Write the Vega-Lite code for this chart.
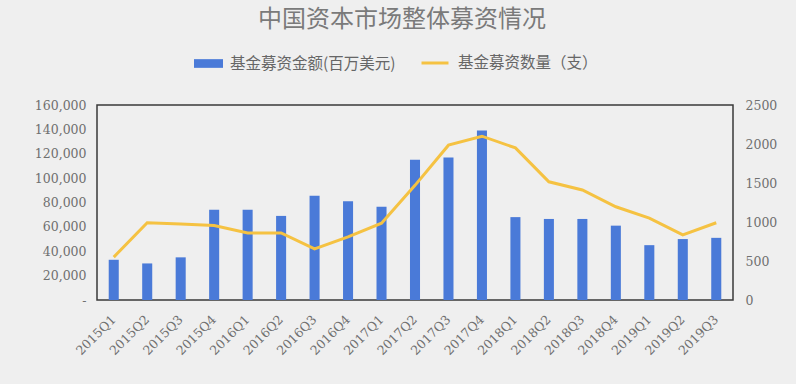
{
  "$schema": "https://vega.github.io/schema/vega-lite/v6.json",
  "width": 636,
  "height": 195,
  "autosize": {"type": "none"},
  "padding": {"left": 97, "top": 105, "right": 63, "bottom": 84},
  "background": "#efefef",
  "title": {
    "text": "中国资本市场整体募资情况",
    "font": "Noto Sans CJK SC",
    "fontSize": 24,
    "fontWeight": "normal",
    "color": "#7a7a7a",
    "offset": 16,
    "dx": -13
  },
  "config": {
    "view": {"stroke": "#3a3a3a", "strokeWidth": 1.5},
    "axis": {
      "grid": false,
      "domain": false,
      "ticks": false,
      "labelFont": "DejaVu Serif",
      "labelFontSize": 12.5,
      "labelColor": "#707070",
      "title": null
    }
  },
  "data": {
    "values": [
      {"q": "2015Q1", "amount": 33000, "count": 550},
      {"q": "2015Q2", "amount": 30000, "count": 990},
      {"q": "2015Q3", "amount": 35000, "count": 975},
      {"q": "2015Q4", "amount": 74000, "count": 955},
      {"q": "2016Q1", "amount": 74000, "count": 860},
      {"q": "2016Q2", "amount": 69000, "count": 860},
      {"q": "2016Q3", "amount": 85500, "count": 655},
      {"q": "2016Q4", "amount": 81000, "count": 810},
      {"q": "2017Q1", "amount": 76500, "count": 985},
      {"q": "2017Q2", "amount": 115000, "count": 1470},
      {"q": "2017Q3", "amount": 117000, "count": 1985},
      {"q": "2017Q4", "amount": 139000, "count": 2100},
      {"q": "2018Q1", "amount": 68000, "count": 1950},
      {"q": "2018Q2", "amount": 66500, "count": 1515},
      {"q": "2018Q3", "amount": 66500, "count": 1410},
      {"q": "2018Q4", "amount": 61000, "count": 1195},
      {"q": "2019Q1", "amount": 45000, "count": 1050},
      {"q": "2019Q2", "amount": 50000, "count": 835},
      {"q": "2019Q3", "amount": 51000, "count": 990}
    ]
  },
  "encoding": {
    "x": {
      "field": "q",
      "type": "ordinal",
      "sort": null,
      "scale": {"paddingInner": 0.7, "paddingOuter": 0.35},
      "axis": {"labelAngle": -45, "labelPadding": 17, "labelAlign": "right", "labelBaseline": "middle"}
    }
  },
  "layer": [
    {
      "mark": {"type": "bar"},
      "encoding": {
        "y": {
          "field": "amount",
          "type": "quantitative",
          "scale": {"domain": [0, 160000], "nice": false},
          "axis": {
            "values": [0, 20000, 40000, 60000, 80000, 100000, 120000, 140000, 160000],
            "labelExpr": "datum.value == 0 ? '-  ' : format(datum.value, ',')",
            "labelPadding": 11
          }
        },
        "color": {
          "datum": "基金募资金额(百万美元)",
          "scale": {"range": ["#4a7ad8"]},
          "legend": {
            "orient": "none",
            "legendX": 96,
            "legendY": -57,
            "title": null,
            "symbolType": "M-1,-0.3H1V0.3H-1Z",
            "symbolSize": 841,
            "symbolOpacity": 1,
            "labelFont": "Noto Sans CJK SC",
            "labelFontSize": 15.5,
            "labelColor": "#666666",
            "labelOffset": 6,
            "labelLimit": 400
          }
        }
      }
    },
    {
      "mark": {"type": "line", "strokeWidth": 3},
      "encoding": {
        "y": {
          "field": "count",
          "type": "quantitative",
          "scale": {"domain": [0, 2500], "nice": false},
          "axis": {
            "orient": "right",
            "values": [0, 500, 1000, 1500, 2000, 2500],
            "format": "d",
            "labelPadding": 12
          }
        },
        "stroke": {
          "datum": "基金募资数量（支）",
          "scale": {"range": ["#f5c242"]},
          "legend": {
            "orient": "none",
            "legendX": 323,
            "legendY": -57,
            "title": null,
            "symbolType": "stroke",
            "symbolSize": 729,
            "symbolStrokeWidth": 3,
            "labelFont": "Noto Sans CJK SC",
            "labelFontSize": 15.5,
            "labelColor": "#666666",
            "labelOffset": 8,
            "labelLimit": 400
          }
        }
      }
    }
  ],
  "resolve": {"scale": {"y": "independent"}}
}
